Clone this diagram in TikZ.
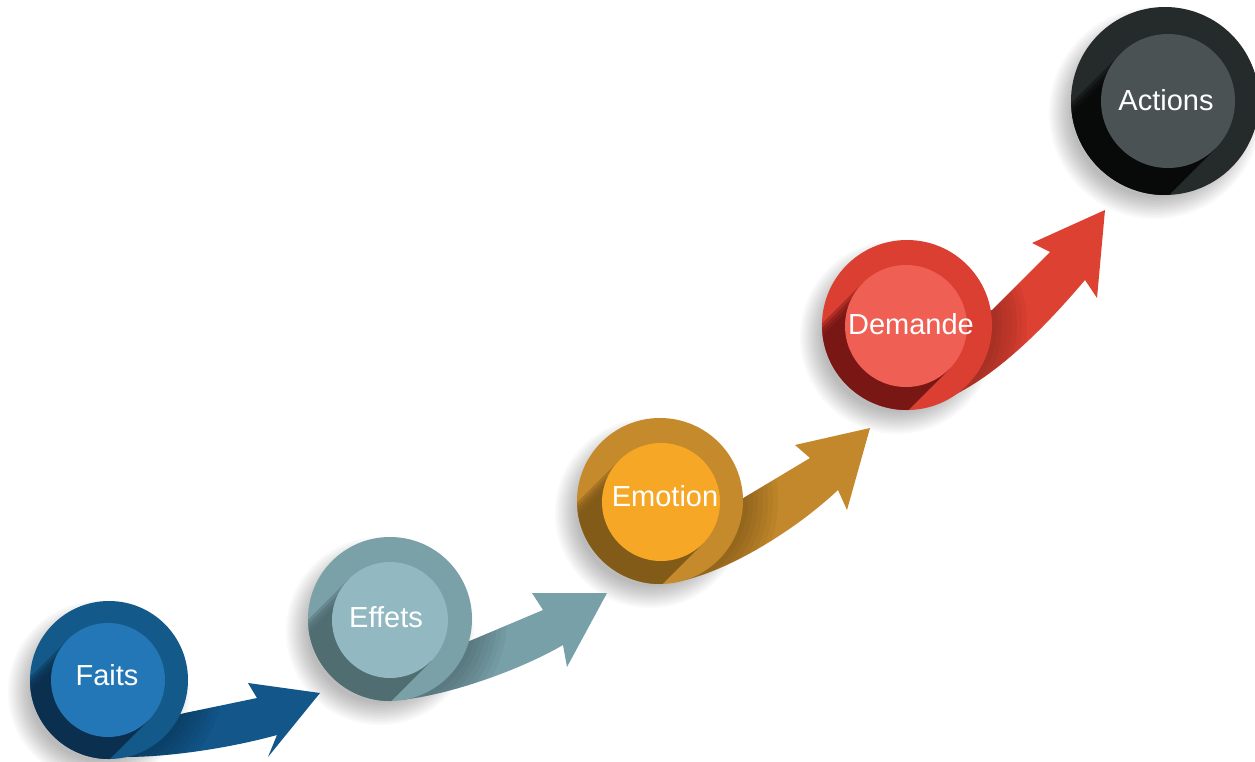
\documentclass[tikz,border=0pt]{standalone}
\usepackage{fontspec}
\setmainfont{Liberation Sans}
\usetikzlibrary{calc}
\definecolor{blueO}{HTML}{135A8A}
\definecolor{blueI}{HTML}{2377B7}
\definecolor{blueS}{HTML}{0B2B48}
\definecolor{blueA}{HTML}{12568A}
\definecolor{tealO}{HTML}{7AA0A8}
\definecolor{tealI}{HTML}{92B9C1}
\definecolor{tealS}{HTML}{4B666B}
\definecolor{tealA}{HTML}{78A0A8}
\definecolor{goldO}{HTML}{C48A2B}
\definecolor{goldI}{HTML}{F6A726}
\definecolor{goldS}{HTML}{7A5518}
\definecolor{goldA}{HTML}{C2882B}
\definecolor{redO}{HTML}{DB3F31}
\definecolor{redI}{HTML}{EF5F53}
\definecolor{redS}{HTML}{6B1212}
\definecolor{redA}{HTML}{DC4132}
\definecolor{darkO}{HTML}{252A2B}
\definecolor{darkI}{HTML}{4A5254}
\definecolor{darkS}{HTML}{050505}
\tikzset{
  lbl/.style={text=white, font=\fontsize{29pt}{29pt}\selectfont, inner sep=0pt, text height=20.8pt, text depth=0pt},
  disc/.style={circle, inner sep=0pt, outer sep=0pt, draw=none}
}
\newcommand\softshadow[3]{%
  \foreach \k in {0,...,11}{\fill[black, opacity=0.022] ({#1-10},{#2+12}) circle[radius={#3-10+2*\k}];}%
}
% darkening of an arrow near its disc: #1 cx, #2 cy, #3 R
\newcommand\arrowshade[3]{%
  \foreach \k in {0,...,7}{\fill[black, opacity=0.035] (#1,#2) circle[radius={#3+5*\k}];}%
}
% #1 name, #2 cx, #3 cy, #4 R, #5 icx, #6 icy, #7 r, #8 colour prefix
\newcommand\stepdisc[8]{%
  \node[disc, fill=#8O, minimum size={2*#4pt}] (#1) at (#2,#3) {};
  \begin{scope}
    \clip (#2,#3) circle[radius=#4];
    \foreach \j in {0,...,3}{
    \fill[#8S, opacity=0.4] ($(#5,#6)+({0.7071*#7},{0.7071*#7})$) -- ++(-260,260)
      -- ($(#5,#6)+({-0.7071*(#7-3*\j)},{-0.7071*(#7-3*\j)})+(-260,260)$)
      -- ($(#5,#6)+({-0.7071*(#7-3*\j)},{-0.7071*(#7-3*\j)})$) -- cycle;}
  \end{scope}
  \node[disc, fill=#8I, minimum size={2*#7pt}] (#1in) at (#5,#6) {};
}
\begin{document}
\begin{tikzpicture}[x=1pt, y=-1pt]
\useasboundingbox (0,0) rectangle (1255,762);
\fill[white] (0,0) rectangle (1255,762);
% soft shadows
\softshadow{109}{680}{79}
\softshadow{390}{619}{82}
\softshadow{660}{501}{83}
\softshadow{907}{325}{85}
\softshadow{1165}{101}{94}
% arrows
\begin{scope}
  \clip (150,722) -- (185,713) -- (257,698) -- (248,683) -- (320,693) -- (268,757) -- (277,735)
     .. controls (230,748) and (170,757) .. (125,757) -- cycle;
  \fill[blueA] (0,0) rectangle (1255,762);
  \arrowshade{109}{680}{79}
\end{scope}
\begin{scope}
  \clip (430,655) -- (472,640) -- (543,610) -- (532,593) -- (607,593) -- (567,667) -- (563,645)
     .. controls (520,670) and (450,695) .. (400,700) -- (395,680) -- cycle;
  \fill[tealA] (0,0) rectangle (1255,762);
  \arrowshade{390}{619}{82}
\end{scope}
\begin{scope}
  \clip (700,520) -- (740,500) -- (810,458) -- (795,445) -- (870,428) -- (847,510) -- (838,490)
     .. controls (790,535) and (720,575) .. (675,582) -- cycle;
  \fill[goldA] (0,0) rectangle (1255,762);
  \arrowshade{660}{501}{83}
\end{scope}
\begin{scope}
  \clip (950,330) -- (992,310) -- (1050,252) -- (1032,243) -- (1105,210) -- (1097,298) -- (1085,280)
     .. controls (1030,345) and (970,400) .. (912,409) -- cycle;
  \fill[redA] (0,0) rectangle (1255,762);
  \arrowshade{907}{325}{85}
\end{scope}
% discs
\stepdisc{faits}{109}{680}{79}{108}{680}{57}{blue}
\stepdisc{effets}{390}{619}{82}{390}{620}{58}{teal}
\stepdisc{emotion}{660}{501}{83}{661}{502}{59}{gold}
\stepdisc{demande}{907}{325}{85}{906}{326}{61}{red}
\stepdisc{actions}{1165}{101}{94}{1168}{101}{67}{dark}
% labels
\node[lbl] (tfaits) at (107,675) {Faits};
\node[lbl] (teffets) at (386,617) {Effets};
\node[lbl] (temotion) at (665,496) {Emotion};
\node[lbl] (tdemande) at (911,324) {Demande};
\node[lbl] (tactions) at (1166,100) {Actions};
\end{tikzpicture}
\end{document}
